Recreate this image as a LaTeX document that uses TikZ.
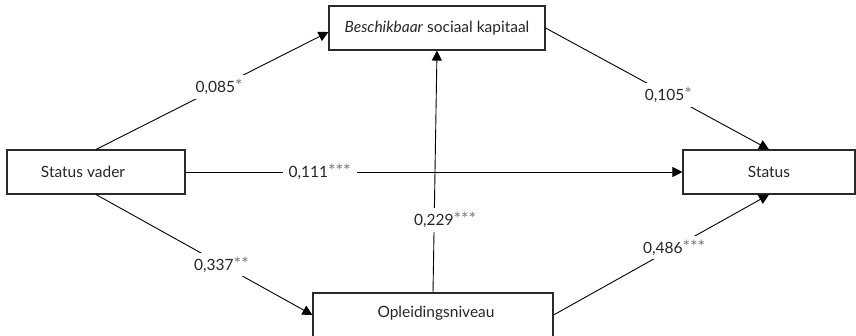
\documentclass[tikz,border=0pt]{standalone}
\usepackage{fontspec}
\setmainfont{Lato}
\usetikzlibrary{arrows.meta,calc}
\definecolor{starcol}{HTML}{7A7A7A}
\definecolor{boxcol}{HTML}{2A2A2A}
\newcommand{\stars}[1]{\textcolor{starcol}{\scalebox{1.15}{#1}}}
\tikzset{
  box/.style={draw=boxcol, line width=1.1pt, rectangle, inner sep=0pt, fill=white},
  txt/.style={inner sep=0pt, font=\fontsize{15.5pt}{17pt}\selectfont, text=black!85},
  lab/.style={fill=white, inner xsep=6pt, inner ysep=4pt, font=\fontsize{15.5pt}{17pt}\selectfont, text=black!85},
  conn/.style={draw=black, line width=0.9pt, -{Triangle[length=10pt,width=10pt]}}
}
\begin{document}
\begin{tikzpicture}[x=1pt,y=-1pt]
\useasboundingbox (0,0) rectangle (856,335);
% boxes
\node[box, minimum width=178pt, minimum height=44pt] (sv) at (96,172) {};
\node[txt] (svt) at (83,172) {Status vader};
\node[box, minimum width=216pt, minimum height=44pt, txt, draw=boxcol, line width=1.1pt] (bsk) at (437,28) {\textit{Beschikbaar} sociaal kapitaal};
\node[box, minimum width=172pt, minimum height=44pt, txt, draw=boxcol, line width=1.1pt] (st) at (769,172) {Status};
\node[box, minimum width=240pt, minimum height=44pt] (opl) at (433,315) {};
\node[txt] (oplt) at (436,313) {Opleidingsniveau};
% connectors
\draw[conn] (sv.north) -- node[lab, pos=0.53] (l1) {0,085\stars{*}} ([yshift=-4pt]bsk.west);
\draw[conn] (bsk.east) -- node[lab, pos=0.55] (l2) {0,105\stars{*}} (st.north);
\draw[conn] (sv.east) -- node[lab, pos=0.27] (l3) {0,111\stars{***}} (st.west);
\draw[conn] (sv.south) -- node[lab, pos=0.58] (l4) {0,337\stars{**}} (opl.west);
\draw[conn] (opl.north) -- node[lab, pos=0.30, xshift=11pt] (l5) {0,229\stars{***}} (bsk.south);
\draw[conn] (opl.east) -- node[lab, pos=0.56] (l6) {0,486\stars{***}} (st.south);
\end{tikzpicture}
\end{document}
